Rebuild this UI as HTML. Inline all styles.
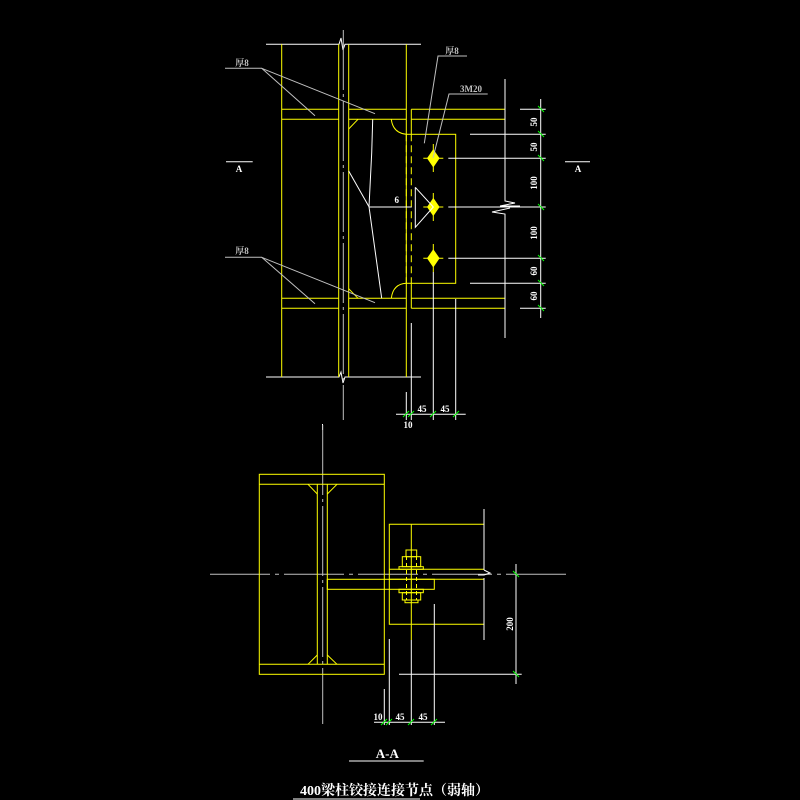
<!DOCTYPE html>
<html><head><meta charset="utf-8"><style>
html,body{margin:0;padding:0;background:#000;}
svg{display:block}
text{font-family:"Liberation Serif","Noto Serif CJK SC",serif;font-weight:bold;}
</style></head><body>
<svg width="800" height="800" viewBox="0 0 800 800" xmlns="http://www.w3.org/2000/svg">
<rect width="800" height="800" fill="#000"/>
<!-- ===== TOP VIEW ===== -->
<g stroke="#fff" stroke-width="1" fill="none">
  <polyline points="266,44.3 339,44.3 341,38 343,50 345,44.3 348,44.3 421,44.3"/>
  <polyline points="266,377 339,377 341,372 343,383 345,377 348,377 421,377"/>
</g>
<line x1="343.3" y1="30" x2="343.3" y2="420" stroke="#c0c0c0" stroke-width="1" stroke-dasharray="60,4,3,4"/>
<g stroke="#ff0" stroke-width="1" fill="none">
  <line x1="281.7" y1="44.3" x2="281.7" y2="377"/>
  <line x1="338.7" y1="44.3" x2="338.7" y2="377"/>
  <line x1="348.7" y1="44.3" x2="348.7" y2="377"/>
  <line x1="406.3" y1="44.3" x2="406.3" y2="134.3"/>
  <line x1="406.3" y1="283.3" x2="406.3" y2="377"/>
  <line x1="411.3" y1="109.3" x2="411.3" y2="134.3"/>
  <line x1="411.3" y1="283.3" x2="411.3" y2="308.3"/>
  <line x1="406.3" y1="134.3" x2="406.3" y2="283.3" stroke-dasharray="7,4"/>
  <line x1="411.3" y1="134.3" x2="411.3" y2="283.3" stroke-dasharray="7,4"/>
  <line x1="281.7" y1="109.3" x2="338.7" y2="109.3"/>
  <line x1="281.7" y1="119.3" x2="338.7" y2="119.3"/>
  <line x1="348.7" y1="109.3" x2="406.3" y2="109.3"/>
  <line x1="348.7" y1="119.3" x2="406.3" y2="119.3"/>
  <line x1="411.3" y1="109.3" x2="505" y2="109.3"/>
  <line x1="411.3" y1="119.3" x2="505" y2="119.3"/>
  <line x1="281.7" y1="298.3" x2="338.7" y2="298.3"/>
  <line x1="281.7" y1="308.3" x2="338.7" y2="308.3"/>
  <line x1="348.7" y1="298.3" x2="406.3" y2="298.3"/>
  <line x1="348.7" y1="308.3" x2="406.3" y2="308.3"/>
  <line x1="411.3" y1="298.3" x2="505" y2="298.3"/>
  <line x1="411.3" y1="308.3" x2="505" y2="308.3"/>
  <rect x="406.3" y="134.3" width="49.4" height="149"/>
  <path d="M391.3,119.3 Q393,133 406.3,134.3"/>
  <path d="M391.3,298.3 Q393,284 406.3,283.3"/>
  <line x1="348.7" y1="129" x2="358" y2="119.3"/>
  <line x1="348.7" y1="288.7" x2="358" y2="298.3"/>
</g>
<!-- bolts -->
<g fill="#ff0" stroke="#ff0" stroke-width="1">
  <polygon points="433.3,150 439,158.3 433.3,166.6 427.6,158.3"/>
  <line x1="423.3" y1="158.3" x2="443.3" y2="158.3"/><line x1="433.3" y1="144" x2="433.3" y2="172"/>
  <polygon points="433.3,198.7 439,207 433.3,215.3 427.6,207"/>
  <line x1="423.3" y1="207" x2="443.3" y2="207"/><line x1="433.3" y1="193" x2="433.3" y2="221"/>
  <polygon points="433.3,250 439,258.3 433.3,266.6 427.6,258.3"/>
  <line x1="423.3" y1="258.3" x2="443.3" y2="258.3"/><line x1="433.3" y1="244" x2="433.3" y2="272"/>
</g>
<g stroke="#fff" stroke-width="1" fill="none">
  <polyline points="372.7,119.3 371.7,153 369,206.7 381.7,298.3"/>
  <line x1="348.7" y1="171" x2="369" y2="206.7"/>
  <line x1="369" y1="207" x2="411.7" y2="207"/>
  <polyline points="415.3,187.3 433.3,207 415.3,227.3 415.3,187.3"/>
  <!-- dims right -->
  <line x1="470" y1="134.3" x2="545.7" y2="134.3"/>
  <line x1="470" y1="283.3" x2="545.7" y2="283.3"/>
  <line x1="448.3" y1="158.3" x2="545.7" y2="158.3"/>
  <line x1="448.3" y1="207" x2="545.7" y2="207"/>
  <line x1="448.3" y1="258.3" x2="545.7" y2="258.3"/>
  <line x1="520" y1="109.3" x2="545.7" y2="109.3"/>
  <line x1="520" y1="308.3" x2="545.7" y2="308.3"/>
  <line x1="540.7" y1="99" x2="540.7" y2="318"/>
  <polyline points="505,79 505,201 515,203 500,206 520,206"/>
  <polyline points="510,208 492,212 505,214 505,338"/>
  <!-- dims bottom -->
  <line x1="396" y1="414.3" x2="465.7" y2="414.3"/>
  <line x1="406.3" y1="392" x2="406.3" y2="420"/>
  <line x1="411.3" y1="323" x2="411.3" y2="420"/>
  <line x1="433.3" y1="272" x2="433.3" y2="420"/>
  <line x1="455.7" y1="299" x2="455.7" y2="420"/>
  <line x1="322.5" y1="424" x2="322.5" y2="430"/>
</g>
<g stroke="#0f0" stroke-width="1">
  <line x1="538" y1="106" x2="544" y2="112"/><line x1="538" y1="131" x2="544" y2="137"/>
  <line x1="538" y1="155" x2="544" y2="161"/><line x1="538" y1="204" x2="544" y2="210"/>
  <line x1="538" y1="255" x2="544" y2="261"/><line x1="538" y1="280" x2="544" y2="286"/>
  <line x1="538" y1="305" x2="544" y2="311"/>
  <line x1="403" y1="417" x2="409" y2="411"/><line x1="408" y1="417" x2="414" y2="411"/>
  <line x1="430" y1="417" x2="436" y2="411"/><line x1="453" y1="417" x2="459" y2="411"/>
</g>
<g fill="#fff" font-size="9">
  <text transform="translate(537,122) rotate(-90)" text-anchor="middle">50</text>
  <text transform="translate(537,147) rotate(-90)" text-anchor="middle">50</text>
  <text transform="translate(537,183) rotate(-90)" text-anchor="middle">100</text>
  <text transform="translate(537,233) rotate(-90)" text-anchor="middle">100</text>
  <text transform="translate(537,271) rotate(-90)" text-anchor="middle">60</text>
  <text transform="translate(537,296) rotate(-90)" text-anchor="middle">60</text>
  <text x="422" y="412" text-anchor="middle">45</text>
  <text x="445" y="412" text-anchor="middle">45</text>
  <text x="408" y="428" text-anchor="middle">10</text>
  <text x="396.7" y="203" text-anchor="middle">6</text>
  <text x="239" y="172" text-anchor="middle">A</text>
  <text x="578" y="172" text-anchor="middle">A</text>
</g>
<g stroke="#fff" stroke-width="1">
  <line x1="226" y1="161.7" x2="252.7" y2="161.7"/>
  <line x1="565" y1="161.7" x2="590" y2="161.7"/>
</g>
<!-- leaders -->
<g stroke="#c0c0c0" stroke-width="1" fill="none">
  <polyline points="225,68.3 261.7,68.3 315,115.7"/>
  <line x1="261.7" y1="68.3" x2="375" y2="113.7"/>
  <polyline points="225,257.3 261.7,257.3 315,303.7"/>
  <line x1="261.7" y1="257.3" x2="375" y2="302.7"/>
  <polyline points="467,56 438,56 424.3,143.3"/>
  <polyline points="487.7,94 449,94 433,158"/>
</g>
<g fill="#c0c0c0" font-size="9">
  <text x="242" y="66" text-anchor="middle">厚8</text>
  <text x="242" y="254" text-anchor="middle">厚8</text>
  <text x="452" y="54" text-anchor="middle">厚8</text>
  <text x="471" y="92" text-anchor="middle">3M20</text>
</g>

<!-- ===== SECTION A-A ===== -->
<line x1="322.7" y1="425" x2="322.7" y2="724" stroke="#c0c0c0" stroke-width="1" stroke-dasharray="70,4,3,4"/>
<line x1="210" y1="574.3" x2="569" y2="574.3" stroke="#c0c0c0" stroke-width="1" stroke-dasharray="60,5,4,5"/>
<g stroke="#ff0" stroke-width="1" fill="none">
  <rect x="259.3" y="474.3" width="125" height="200"/>
  <line x1="259.3" y1="484.3" x2="384.3" y2="484.3"/>
  <line x1="259.3" y1="664.3" x2="384.3" y2="664.3"/>
  <line x1="317.3" y1="484.3" x2="317.3" y2="664.3"/>
  <line x1="327.3" y1="484.3" x2="327.3" y2="664.3"/>
  <line x1="308" y1="484.3" x2="317.3" y2="494"/><line x1="337" y1="484.3" x2="327.3" y2="494"/>
  <line x1="308" y1="664.3" x2="317.3" y2="655"/><line x1="337" y1="664.3" x2="327.3" y2="655"/>
  <polyline points="484,524.3 389.3,524.3 389.3,624.3 484,624.3"/>
  <line x1="389.3" y1="569.3" x2="484" y2="569.3"/>
  <line x1="389.3" y1="579.3" x2="484" y2="579.3"/>
  <rect x="327.3" y="579.3" width="107" height="10"/>
  <line x1="411.3" y1="524.3" x2="411.3" y2="640"/>
  <rect x="406" y="550" width="10.7" height="6.7"/>
  <rect x="402.3" y="556.7" width="18.4" height="10"/>
  <rect x="399" y="566.7" width="24.3" height="2.6"/>
  <rect x="399" y="589.3" width="24.3" height="3.4"/>
  <rect x="402.3" y="592.7" width="18.4" height="7.3"/>
  <rect x="405" y="600" width="13" height="2.7"/>
  <line x1="406.5" y1="556" x2="406.5" y2="600" stroke-dasharray="4,3"/>
  <line x1="416.5" y1="556" x2="416.5" y2="600" stroke-dasharray="4,3"/>
</g>
<g stroke="#fff" stroke-width="1" fill="none">
  <line x1="484" y1="509" x2="484" y2="570"/>
  <line x1="484" y1="578" x2="484" y2="640"/>
  <polyline points="484,570 490,573 484,575 478,575"/>
  <line x1="516" y1="564" x2="516" y2="684"/>
  <line x1="399" y1="674.3" x2="521.7" y2="674.3"/>
  <line x1="374" y1="722.3" x2="445" y2="722.3"/>
  <line x1="384.3" y1="689" x2="384.3" y2="725"/>
  <line x1="389.3" y1="639" x2="389.3" y2="725"/>
  <line x1="411.3" y1="640" x2="411.3" y2="725"/>
  <line x1="434.3" y1="604" x2="434.3" y2="725"/>
  <line x1="349" y1="761" x2="423.7" y2="761"/>
  <line x1="293" y1="799" x2="420" y2="799"/>
</g>
<g stroke="#0f0" stroke-width="1">
  <line x1="513" y1="571" x2="519" y2="577"/><line x1="513" y1="671" x2="519" y2="677"/>
  <line x1="381" y1="725" x2="387" y2="719"/><line x1="386" y1="725" x2="392" y2="719"/>
  <line x1="408" y1="725" x2="414" y2="719"/><line x1="431" y1="725" x2="437" y2="719"/>
</g>
<g fill="#fff" font-size="9">
  <text transform="translate(513,624) rotate(-90)" text-anchor="middle">200</text>
  <text x="378" y="720" text-anchor="middle">10</text>
  <text x="400" y="720" text-anchor="middle">45</text>
  <text x="423" y="720" text-anchor="middle">45</text>
</g>
<text x="387.3" y="758" fill="#fff" font-size="13" text-anchor="middle">A-A</text>
<text x="394.5" y="795" fill="#fff" font-size="14" text-anchor="middle">400梁柱铰接连接节点（弱轴）</text>
</svg>
</body></html>
